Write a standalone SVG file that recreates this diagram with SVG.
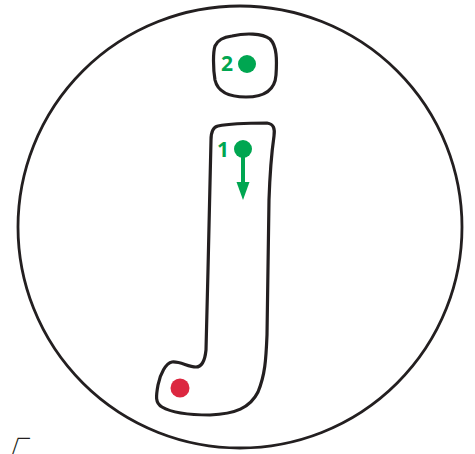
<svg xmlns="http://www.w3.org/2000/svg" width="475" height="454" viewBox="0 0 475 454">
<style>
.outline{fill:none;stroke:#231f20;stroke-width:3.2;stroke-linejoin:round;stroke-linecap:round}
.ring{fill:none;stroke:#231f20;stroke-width:2.8}
.g{fill:#00a651}
.lbl{font-family:"Open Sans","Liberation Sans",sans-serif;font-weight:700;font-size:21px;fill:#00a651}
</style>
<g id="circle"><ellipse class="ring" cx="240" cy="227" rx="222" ry="221"/></g>
<g id="dot-box">
<path class="outline" d="M232,36 C245,33 262,33 270,39 C277,46 277,60 276,75 C275,90 264,97 246,97 C230,97 218,93 215,80 C213,68 213,52 215,46 C218,39 224,37 232,36 Z"/>
</g>
<g id="stem">
<path class="outline" d="M218,126 C232,123 252,123 267,123 C274,124 275,129 274,136 C272,150 270,170 269,200 L267,335 C266,360 265,375 258,392 C250,408 235,414 210,415 C190,415 172,413 162,407 C155,403 156,396 158,385 C160,374 166,363 172,362 C180,361 188,367 196,367 C202,367 205,360 206,350 L208,270 L211,140 C211,131 213,127 218,126 Z"/>
</g>
<g id="point-2">
<circle class="g" cx="247" cy="64" r="9"/>
<text class="lbl" x="221" y="71">2</text>
</g>
<g id="point-1">
<circle class="g" cx="243" cy="149" r="9"/>
<text class="lbl" x="217" y="157">1</text>
</g>
<g id="end-point">
<circle cx="180" cy="388" r="9.5" fill="#dc2740"/>
</g>
<g id="connectors">
<line x1="243" y1="152" x2="243" y2="184" stroke="#00a651" stroke-width="4"/>
<polygon points="236.5,182 249.5,182 243,200" fill="#00a651"/>
</g>
<text x="2" y="463" font-family="Noto Sans CJK SC, sans-serif" font-size="28" fill="#231f20">√</text>
</svg>
